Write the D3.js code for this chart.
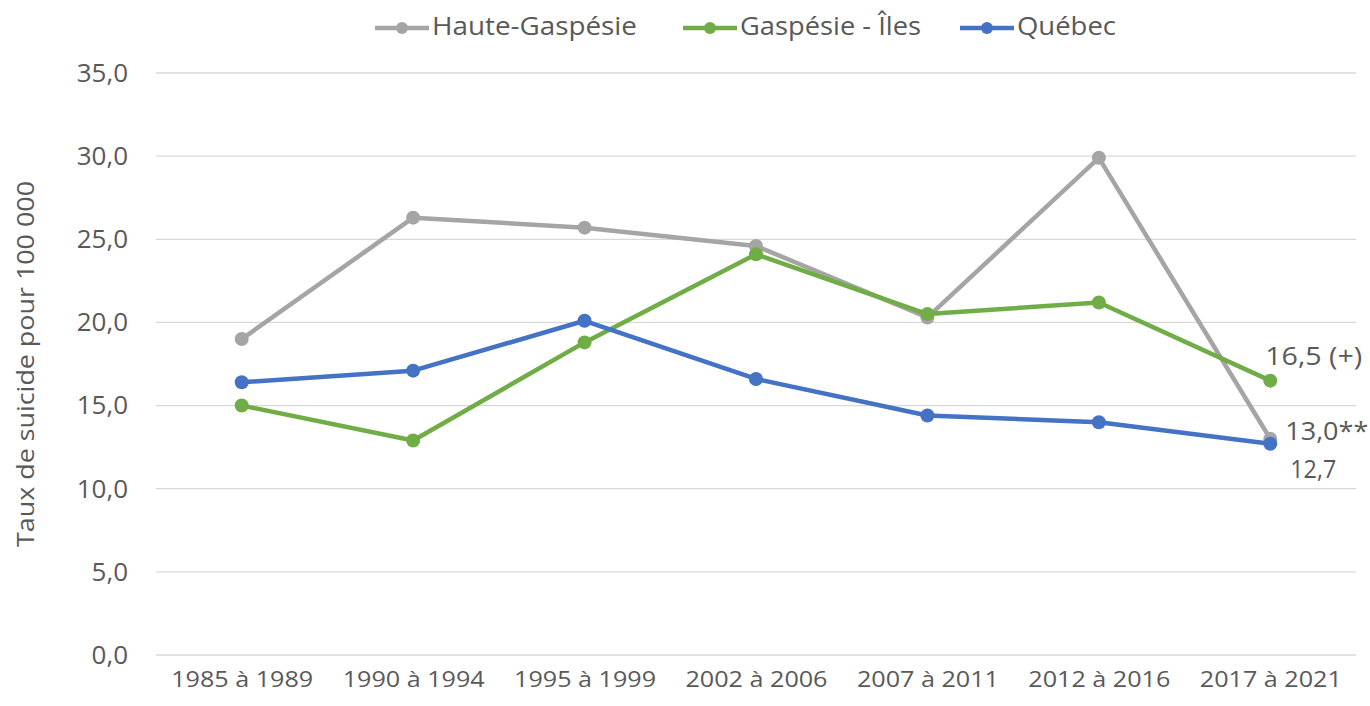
<!DOCTYPE html>
<html>
<head>
<meta charset="utf-8">
<script src="https://cdn.jsdelivr.net/npm/d3@7"></script>
<style>
  body { margin: 0; background: #fff; }
  text { font-family: "Open Sans", sans-serif; fill: #595959; }
</style>
</head>
<body>
<svg></svg>
<script>
// periodes et taux (pour 100 000)
const periodes = ['1985 à 1989', '1990 à 1994', '1995 à 1999', '2002 à 2006', '2007 à 2011', '2012 à 2016', '2017 à 2021'];
const hauteGaspesie = [19.0, 26.3, 25.7, 24.6, 20.3, 29.9, 13.0];
const gaspesieIles = [15.0, 12.9, 18.8, 24.1, 20.5, 21.2, 16.5];
const quebec = [16.4, 17.1, 20.1, 16.6, 14.4, 14.0, 12.7];
const yTicks = [0, 5, 10, 15, 20, 25, 30, 35];

const seriesNames = ['Haute-Gaspésie', 'Gaspésie - Îles', 'Québec'];
const seriesColors = ['#A5A5A5', '#70AD47', '#4472C4'];
const seriesValues = [hauteGaspesie, gaspesieIles, quebec];
// etiquette sur le dernier point
const lastLabels = ['13,0**', '16,5 (+)', '12,7'];

const WIDTH = 1370;
const HEIGHT = 706;
const PLOT_LEFT = 156;
const PLOT_RIGHT = 1356;
const PLOT_TOP = 73;
const PLOT_BOTTOM = 655;

const svg = d3.select('svg').
attr('width', WIDTH).
attr('height', HEIGHT);

const x = d3.scalePoint().
domain(periodes).
range([PLOT_LEFT, PLOT_RIGHT]).
padding(0.5);

const y = d3.scaleLinear().
domain([0, 35]).
range([PLOT_BOTTOM, PLOT_TOP]);

// grid
svg.append('g').
selectAll('line').
data(yTicks).
enter().
append('line').
attr('x1', PLOT_LEFT).
attr('x2', PLOT_RIGHT).
attr('y1', d => y(d)).
attr('y2', d => y(d)).
attr('stroke', '#D9D9D9').
attr('stroke-width', 1.3);

// y axis
const yAxis = d3.axisLeft(y).
tickValues(yTicks).
tickSize(0).
tickPadding(0).
tickFormat(d => d3.format('.1f')(d).replace('.', ','));

const yG = svg.append('g').
attr('transform', `translate(128, 0)`).
call(yAxis);
yG.select('.domain').remove();
yG.selectAll('text').
attr('font-size', '26px').
attr('fill', '#595959').
attr('font-family', '"Open Sans", sans-serif');

// x axis
const xAxis = d3.axisBottom(x).tickSize(0).tickPadding(0);
const xG = svg.append('g').
attr('transform', `translate(0, 671)`).
call(xAxis);
xG.select('.domain').remove();
xG.selectAll('text').
attr('font-size', '22px').
attr('fill', '#595959').
attr('font-family', '"Open Sans", sans-serif').
attr('textLength', 142).
attr('lengthAdjust', 'spacingAndGlyphs');

// y title
svg.append('text').
attr('transform', `translate(34, ${(PLOT_TOP + PLOT_BOTTOM) / 2}) rotate(-90)`).
attr('text-anchor', 'middle').
attr('font-size', '23px').
attr('textLength', 366).
attr('lengthAdjust', 'spacingAndGlyphs').
text('Taux de suicide pour 100 000');

// lines
const line = d3.line().
x((d, i) => x(periodes[i])).
y(d => y(d));

seriesValues.forEach((vals, s) => {
  const g = svg.append('g');
  g.append('path').
  datum(vals).
  attr('d', line).
  attr('fill', 'none').
  attr('stroke', seriesColors[s]).
  attr('stroke-width', 4.5).
  attr('stroke-linejoin', 'round').
  attr('stroke-linecap', 'round');
  g.selectAll('circle').
  data(vals).
  enter().
  append('circle').
  attr('cx', (d, i) => x(periodes[i])).
  attr('cy', d => y(d)).
  attr('r', 7).
  attr('fill', seriesColors[s]);
});

// data labels on last point
const lastX = x(periodes[periodes.length - 1]);
const labelOffsets = [[15, -6], [-5, -22], [20, 27]];
const labelWidths = [83, 97, 46];
seriesValues.forEach((vals, s) => {
  svg.append('text').
  attr('x', lastX + labelOffsets[s][0]).
  attr('y', y(vals[vals.length - 1]) + labelOffsets[s][1]).
  attr('dominant-baseline', 'middle').
  attr('font-size', '25px').
  attr('fill', '#404040').
  attr('textLength', labelWidths[s]).
  attr('lengthAdjust', 'spacingAndGlyphs').
  text(lastLabels[s]);
});

// legend
const legendX = [375, 683, 960];
const legendWidths = [205, 181, 99];
const legend = svg.append('g');
seriesNames.forEach((name, s) => {
  const lg = legend.append('g').attr('transform', `translate(${legendX[s]}, 28)`);
  lg.append('line').
  attr('x1', 0).attr('x2', 54).
  attr('stroke', seriesColors[s]).
  attr('stroke-width', 4.5);
  lg.append('circle').
  attr('cx', 27).
  attr('r', 6).
  attr('fill', seriesColors[s]);
  lg.append('text').
  attr('x', 57).
  attr('dominant-baseline', 'middle').
  attr('font-size', '26px').
  attr('textLength', legendWidths[s]).
  attr('lengthAdjust', 'spacingAndGlyphs').
  text(name);
});
</script>
</body>
</html>
